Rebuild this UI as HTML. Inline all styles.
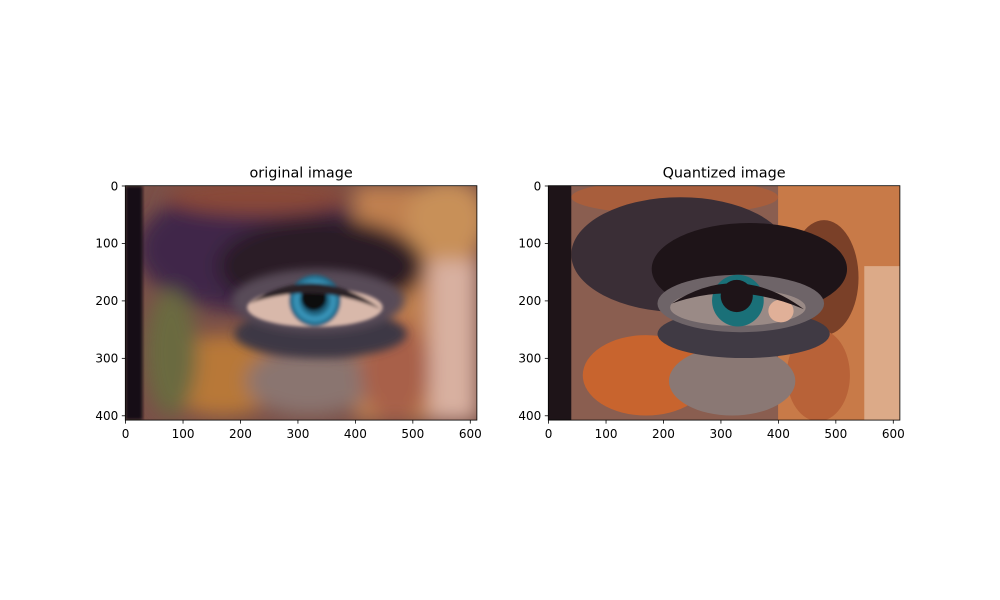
<!DOCTYPE html>
<html><head><meta charset="utf-8"><style>
html,body{margin:0;padding:0;background:#fff;}
svg{display:block;font-family:"DejaVu Sans","Liberation Sans",sans-serif;}
</style></head><body>
<svg id="fig" width="1000" height="600" viewBox="0 0 1000 600">
<defs>
<filter id="blur" x="-20%" y="-20%" width="140%" height="140%"><feGaussianBlur stdDeviation="16"/></filter>
<filter id="blur2"><feGaussianBlur stdDeviation="3"/></filter>
<filter id="blur3" x="-20%" y="-20%" width="140%" height="140%"><feGaussianBlur stdDeviation="8"/></filter>
<clipPath id="imgclip"><rect x="0" y="0" width="612" height="408"/></clipPath>
<radialGradient id="iris" cx="0.5" cy="0.5" r="0.5"><stop offset="0.45" stop-color="#1a5670"/><stop offset="0.7" stop-color="#3a9ac0"/><stop offset="1" stop-color="#1e5c78"/></radialGradient>
</defs>

<!-- Original image -->
<g transform="translate(125.3,185.7) scale(0.5745)">
 <g clip-path="url(#imgclip)">
  <rect width="612" height="408" fill="#7a5048"/>
  <g filter="url(#blur)">
   <rect x="400" y="0" width="212" height="408" fill="#c08050"/>
   <rect x="530" y="130" width="82" height="278" fill="#d8b0a0"/>
   <ellipse cx="560" cy="60" rx="70" ry="70" fill="#c89058"/>
   <ellipse cx="220" cy="110" rx="200" ry="110" fill="#40284a"/>
   <ellipse cx="340" cy="140" rx="180" ry="85" fill="#2a1a28"/>
   <ellipse cx="170" cy="330" rx="110" ry="70" fill="#b87838"/>
   <ellipse cx="80" cy="290" rx="45" ry="110" fill="#6a6a40"/>
   <ellipse cx="320" cy="340" rx="110" ry="60" fill="#8a7470"/>
   <ellipse cx="470" cy="320" rx="60" ry="90" fill="#a86048"/>
   <ellipse cx="230" cy="20" rx="160" ry="30" fill="#8a4a38"/>
  </g>
  <rect x="0" y="0" width="30" height="408" fill="#141014" filter="url(#blur2)"/>
  <g filter="url(#blur3)">
   <ellipse cx="340" cy="258" rx="150" ry="42" fill="#3c3844"/>
   <ellipse cx="335" cy="200" rx="150" ry="55" fill="#584c58"/>
  </g>
  <g filter="url(#blur2)">
   <ellipse cx="330" cy="212" rx="118" ry="34" fill="#d8b8aa"/>
   <circle cx="330" cy="200" r="45" fill="url(#iris)"/>
   <circle cx="328" cy="195" r="22" fill="#0e0c10"/>
   <path d="M215 205 Q330 130 445 215 Q330 165 215 205Z" fill="#2a2028"/>
  </g>
 </g>
</g>

<!-- Quantized image -->
<g transform="translate(548.3,185.7) scale(0.5745)">
 <g clip-path="url(#imgclip)">
  <rect width="612" height="408" fill="#8a5e50"/>
  <rect x="400" y="0" width="212" height="408" fill="#c87a48"/>
  <ellipse cx="480" cy="160" rx="60" ry="100" fill="#7a4028"/>
  <rect x="550" y="140" width="62" height="268" fill="#dcaa88"/>
  <ellipse cx="170" cy="330" rx="110" ry="70" fill="#c8642e"/>
  <ellipse cx="470" cy="330" rx="55" ry="80" fill="#b86238"/>
  <ellipse cx="320" cy="340" rx="110" ry="60" fill="#8a7874"/>
  <ellipse cx="220" cy="20" rx="180" ry="30" fill="#a85e3c"/>
  <ellipse cx="230" cy="120" rx="190" ry="100" fill="#3a2e36"/>
  <ellipse cx="350" cy="145" rx="170" ry="80" fill="#1e1418"/>
  <rect x="0" y="0" width="40" height="408" fill="#1e1418"/>
  <ellipse cx="340" cy="258" rx="150" ry="42" fill="#403a44"/>
  <ellipse cx="335" cy="205" rx="145" ry="50" fill="#6e6468"/>
  <ellipse cx="330" cy="212" rx="118" ry="32" fill="#9a8a86"/>
  <ellipse cx="405" cy="218" rx="22" ry="20" fill="#e0b098"/>
  <circle cx="330" cy="200" r="45" fill="#1a7078"/>
  <circle cx="328" cy="192" r="28" fill="#1e1418"/>
  <path d="M215 205 Q330 130 445 215 Q330 165 215 205Z" fill="#1e1418"/>
 </g>
</g>
<g id="axes"></g>
</svg>
<script>
const xTicks=[0,100,200,300,400,500,600];
const yTicks=[0,100,200,300,400];
const titles=["original image","Quantized image"];
const imgW=612, imgH=408;
const axLeft=[125.3,548.3], axTop=185.7, sc=0.5745;
const NS="http://www.w3.org/2000/svg";
const g=document.getElementById('axes');
function mk(t,a){const e=document.createElementNS(NS,t);for(const k in a)e.setAttribute(k,a[k]);g.appendChild(e);return e;}
axLeft.forEach((L,i)=>{
 const fx=v=>L+(v+0.5)*sc, fy=v=>axTop+(v+0.5)*sc;
 const W=imgW*sc,H=imgH*sc;
 const fr=mk('rect',{x:L,y:axTop,width:W,height:H,fill:'none',stroke:'#000','stroke-width':0.8});
 
 
 xTicks.forEach(t=>{
  const x=fx(t);
  const l=mk('line',{x1:x,x2:x,y1:axTop+H,y2:axTop+H+3.5,stroke:'#000','stroke-width':0.8});
  
  
  const tx=mk('text',{x:x,y:axTop+H+18,'text-anchor':'middle','font-size':12,fill:'#000'});
  tx.textContent=t;
  
  
 });
 yTicks.forEach(t=>{
  const y=fy(t);
  const l=mk('line',{x1:L-3.5,x2:L,y1:y,y2:y,stroke:'#000','stroke-width':0.8});
  
  
  const tx=mk('text',{x:L-7,y:y+4.3,'text-anchor':'end','font-size':12,fill:'#000'});
  tx.textContent=t;
  
  
 });
 const ti=mk('text',{x:L+W/2,y:axTop-8,'text-anchor':'middle','font-size':14.4,fill:'#000'});
 ti.textContent=titles[i];
 
 
});
</script>
</body></html>
